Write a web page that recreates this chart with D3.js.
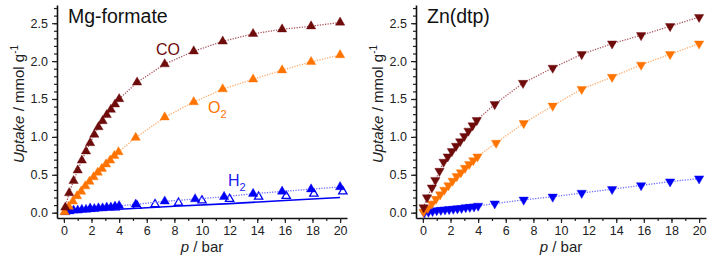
<!DOCTYPE html>
<html>
<head>
<meta charset="utf-8">
<script src="https://cdn.jsdelivr.net/npm/d3@7"></script>
<style>
  body { margin: 0; background: #fff; }
  svg { display: block; font-family: Arial, "Liberation Sans", sans-serif; }
</style>
</head>
<body>
<svg id="chart" width="709" height="261"></svg>
<script>
// Mg-formate isotherms [p (bar), uptake (mmol/g)]
const mgCO = [[0.1,0.07],[0.38,0.26],[0.7,0.42],[1.0,0.56],[1.3,0.69],[1.6,0.81],[1.9,0.92],[2.2,1.03],[2.5,1.13],[2.8,1.21],[3.1,1.29],[3.4,1.36],[3.7,1.43],[4.0,1.50],
  [5.3,1.72],[7.3,1.96],[9.4,2.13],[11.5,2.26],[13.7,2.36],[15.8,2.42],[17.9,2.46],[20.0,2.51]];
const mgO2 = [[0.05,0.01],[0.35,0.08],[0.65,0.15],[0.95,0.22],[1.25,0.28],[1.55,0.35],[1.85,0.41],[2.15,0.47],[2.45,0.53],[2.75,0.58],[3.05,0.64],[3.35,0.69],[3.65,0.75],[3.95,0.80],
  [5.2,0.99],[7.3,1.26],[9.4,1.46],[11.5,1.63],[13.7,1.76],[15.8,1.88],[17.9,1.99],[20.0,2.08]];
const mgH2 = [[0.1,0.01],[0.4,0.02],[0.7,0.03],[1.0,0.03],[1.3,0.04],[1.6,0.04],[1.9,0.05],[2.2,0.05],[2.5,0.06],[2.8,0.06],[3.1,0.07],[3.4,0.07],[3.7,0.08],[4.0,0.09],
  [5.2,0.11],[7.3,0.15],[9.5,0.18],[11.6,0.21],[13.7,0.25],[15.8,0.28],[17.9,0.31],[20.0,0.34]];
const mgH2open = [[0.3,0.04],[1.9,0.05],[3.7,0.07],[5.3,0.09],[6.6,0.11],[8.3,0.13],[10.0,0.16],[12.0,0.18],[14.1,0.21],[16.1,0.22],[18.1,0.25],[20.2,0.28]];
const mgH2fit = [[0,0],[1,0.015],[2,0.025],[4,0.045],[8,0.085],[12,0.12],[16,0.16],[20,0.2]];

// Zn(dtp) isotherms
const znCO = [[0.05,0.07],[0.3,0.2],[0.65,0.33],[0.9,0.43],[1.2,0.55],[1.5,0.67],[1.8,0.74],[2.1,0.81],[2.4,0.88],[2.7,0.94],[3.0,1.01],[3.3,1.08],[3.6,1.15],[3.9,1.22],
  [5.2,1.43],[7.25,1.71],[9.4,1.91],[11.5,2.09],[13.7,2.23],[15.8,2.34],[17.9,2.46],[20.0,2.58]];
const znO2 = [[0.05,0.01],[0.35,0.06],[0.65,0.12],[0.95,0.18],[1.25,0.24],[1.55,0.30],[1.85,0.36],[2.15,0.42],[2.45,0.48],[2.75,0.53],[3.05,0.59],[3.35,0.64],[3.65,0.69],[3.95,0.74],
  [5.3,0.92],[7.3,1.18],[9.4,1.41],[11.5,1.63],[13.7,1.79],[15.8,1.95],[17.9,2.09],[20.0,2.23]];
const znH2 = [[0.1,0.0],[0.4,0.01],[0.7,0.02],[1.0,0.03],[1.3,0.035],[1.6,0.04],[1.9,0.045],[2.2,0.05],[2.5,0.055],[2.8,0.06],[3.1,0.07],[3.4,0.075],[3.7,0.08],[4.0,0.09],
  [5.2,0.12],[7.3,0.17],[9.4,0.21],[11.5,0.26],[13.7,0.31],[15.8,0.36],[17.9,0.41],[20.0,0.45]];

const xMajor = [0,2,4,6,8,10,12,14,16,18,20];
const yMajor = [0.0,0.5,1.0,1.5,2.0,2.5];

const C_CO = '#6e0b0b', C_O2 = '#ff7300', C_H2 = '#0000f5';
const L_CO = '#a8505a', L_O2 = '#ffa866', L_H2 = '#6a6aff';

const svg = d3.select('#chart');

const x = d3.scaleLinear().domain([-0.5, 20.5]).range([57, 347]);
const y = d3.scaleLinear().domain([-0.07, 2.74]).range([218, 5]);

function drawPanel(offset, title, series) {
  const g = svg.append('g').attr('transform', `translate(${offset},0)`);

  // minor ticks
  g.append('g').attr('transform', `translate(${x.range()[0]},0)`)
    .call(d3.axisLeft(y).tickValues(d3.range(0, 28).map(i => i / 10)).tickSize(3).tickFormat(''))
    .call(a => a.select('.domain').remove());
  g.append('g').attr('transform', `translate(0,${y.range()[0]})`)
    .call(d3.axisBottom(x).tickValues(d3.range(0, 21)).tickSize(3).tickFormat(''))
    .call(a => a.select('.domain').remove());

  g.append('g').attr('transform', `translate(${x.range()[0]},0)`)
    .call(d3.axisLeft(y).tickValues(yMajor).tickFormat(d3.format('.1f')).tickSize(5).tickSizeOuter(0).tickPadding(4));
  g.append('g').attr('transform', `translate(0,${y.range()[0]})`)
    .call(d3.axisBottom(x).tickValues(xMajor).tickSize(5).tickSizeOuter(0).tickPadding(3));

  g.selectAll('.tick line').attr('stroke', '#222').attr('stroke-width', 1.2);
  g.selectAll('.domain').attr('stroke', '#111').attr('stroke-width', 1.6);
  g.selectAll('.tick text').attr('font-size', 12.5).attr('fill', '#222')
    .attr('font-family', 'Arial, "Liberation Sans", sans-serif');

  // title
  g.append('text').attr('x', 68).attr('y', 23)
    .attr('font-size', 19.5).attr('fill', '#111').text(title);

  // axis labels
  const yl = g.append('text')
    .attr('transform', 'translate(24,104) rotate(-90)')
    .attr('text-anchor', 'middle').attr('font-size', 15).attr('fill', '#222');
  yl.append('tspan').attr('font-style', 'italic').text('Uptake');
  yl.append('tspan').text(' / mmol g');
  yl.append('tspan').attr('font-size', 10).attr('dy', -6).text('-1');

  const xl = g.append('text').attr('x', 202).attr('y', 252)
    .attr('text-anchor', 'middle').attr('font-size', 15).attr('fill', '#222');
  xl.append('tspan').attr('font-style', 'italic').text('p');
  xl.append('tspan').text(' / bar');

  const line = d3.line().x(d => x(d[0])).y(d => y(d[1]));

  series.forEach(s => {
    if (s.lineColor) {
      g.append('path').datum(s.data)
        .attr('fill', 'none')
        .attr('stroke', s.lineColor)
        .attr('stroke-width', s.solid ? 1.6 : 1.3)
        .attr('stroke-dasharray', s.solid ? null : '1.2,1.4')
        .attr('d', line);
    }
    if (s.shape) {
      const sym = d3.symbol(d3.symbolTriangle, s.open ? 30 : 38);
      g.selectAll(null).data(s.data).join('path')
        .attr('transform', d => `translate(${x(d[0])},${y(d[1])})${s.shape === 'down' ? ' rotate(180)' : ''}`)
        .attr('d', sym)
        .attr('fill', s.open ? '#fff' : s.color)
        .attr('stroke', s.color)
        .attr('stroke-width', s.open ? 1.3 : 0.4);
    }
  });
  return g;
}

const left = drawPanel(0, 'Mg-formate', [
  { data: mgH2fit, lineColor: C_H2, solid: true },
  { data: mgH2open, color: C_H2, shape: 'up', open: true },
  { data: mgH2, color: C_H2, lineColor: L_H2, shape: 'up' },
  { data: mgO2, color: C_O2, lineColor: L_O2, shape: 'up' },
  { data: mgCO, color: C_CO, lineColor: L_CO, shape: 'up' }
]);

drawPanel(359, 'Zn(dtp)', [
  { data: znH2, color: C_H2, lineColor: L_H2, shape: 'down' },
  { data: znO2, color: C_O2, lineColor: L_O2, shape: 'down' },
  { data: znCO, color: C_CO, lineColor: L_CO, shape: 'down' }
]);

// series labels (left panel)
left.append('text').attr('x', 156).attr('y', 55).attr('font-size', 16).attr('fill', C_CO).text('CO');
const o2 = left.append('text').attr('x', 208).attr('y', 113).attr('font-size', 16).attr('fill', C_O2);
o2.append('tspan').text('O');
o2.append('tspan').attr('font-size', 11).attr('dy', 5).text('2');
const h2 = left.append('text').attr('x', 228).attr('y', 186).attr('font-size', 16).attr('fill', '#1a1aee');
h2.append('tspan').text('H');
h2.append('tspan').attr('font-size', 11).attr('dy', 5).text('2');
</script>
</body>
</html>
